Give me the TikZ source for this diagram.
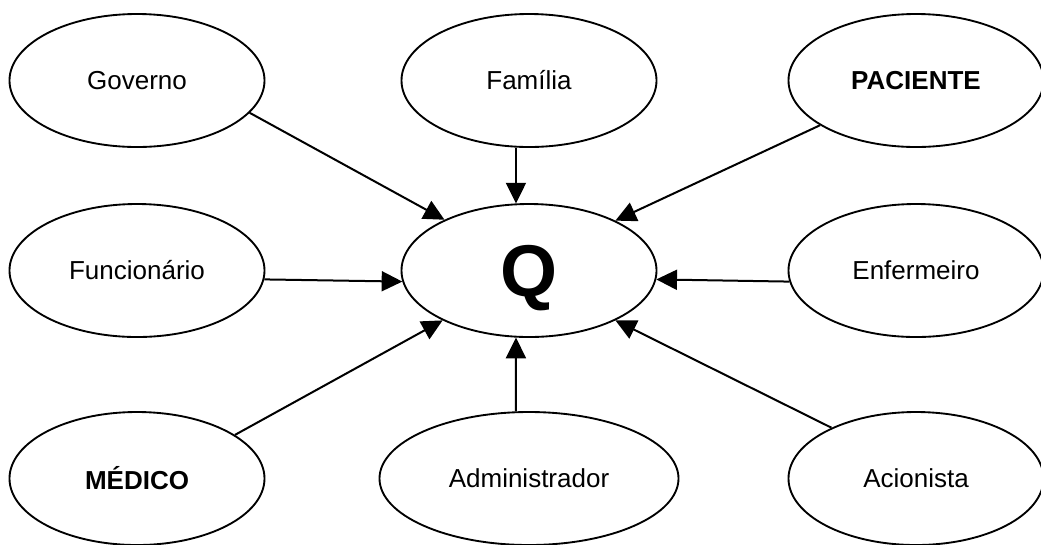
\documentclass[tikz,border=0pt]{standalone}
\usepackage{fontspec}
\setmainfont{Liberation Sans}
\usetikzlibrary{shapes.geometric,arrows.meta}
\begin{document}
\begin{tikzpicture}[x=0.75pt,y=-0.75pt,
  actor/.style={ellipse, draw, line width=1.4pt, minimum width=191.25pt,
    minimum height=99.75pt, inner sep=0pt,
    font=\fontsize{19.5}{23}\selectfont},
  wide/.style={minimum width=224.25pt},
  strong/.style={font=\fontsize{19.5}{23}\selectfont\bfseries},
  link/.style={line width=1.5pt, -{Triangle[length=15.5pt,width=15pt]}}]
\useasboundingbox (0,0) rectangle (1041,544);

% stakeholders around the central quality node
\node[actor] (gov) at (137,80.5) {Governo};
\node[actor] (fam) at (529,80.5) {Família};
\node[actor, strong] (pac) at (916,80.5) {PACIENTE};
\node[actor] (func) at (137,270.5) {Funcionário};
\node[actor, font=\fontsize{55}{60}\selectfont\bfseries] (q) at (529,270.5)
  {\raisebox{0pt}[0.72em][0pt]{Q}};
\node[actor] (enf) at (916,270.5) {Enfermeiro};
\node[actor, strong] (med) at (137,478.5) {MÉDICO};
\node[actor, wide] (adm) at (529,478.5) {Administrador};
\node[actor] (aci) at (916,478.5) {Acionista};

% influences pointing at Q
\draw[link] (gov.-16) -- (q.149.5);
\draw[link] (fam.-101.3) -- (q.101.3);
\draw[link] (pac.205.7) -- (q.30.2);
\draw[link] (func.-4.3) -- (q.-175.7);
\draw[link] (enf.-175.7) -- (q.-4.3);
\draw[link] (med.24.4) -- (q.-150);
\draw[link] (adm.101.1) -- (q.-101.3);
\draw[link] (aci.149.2) -- (q.-30.8);
\end{tikzpicture}
\end{document}
